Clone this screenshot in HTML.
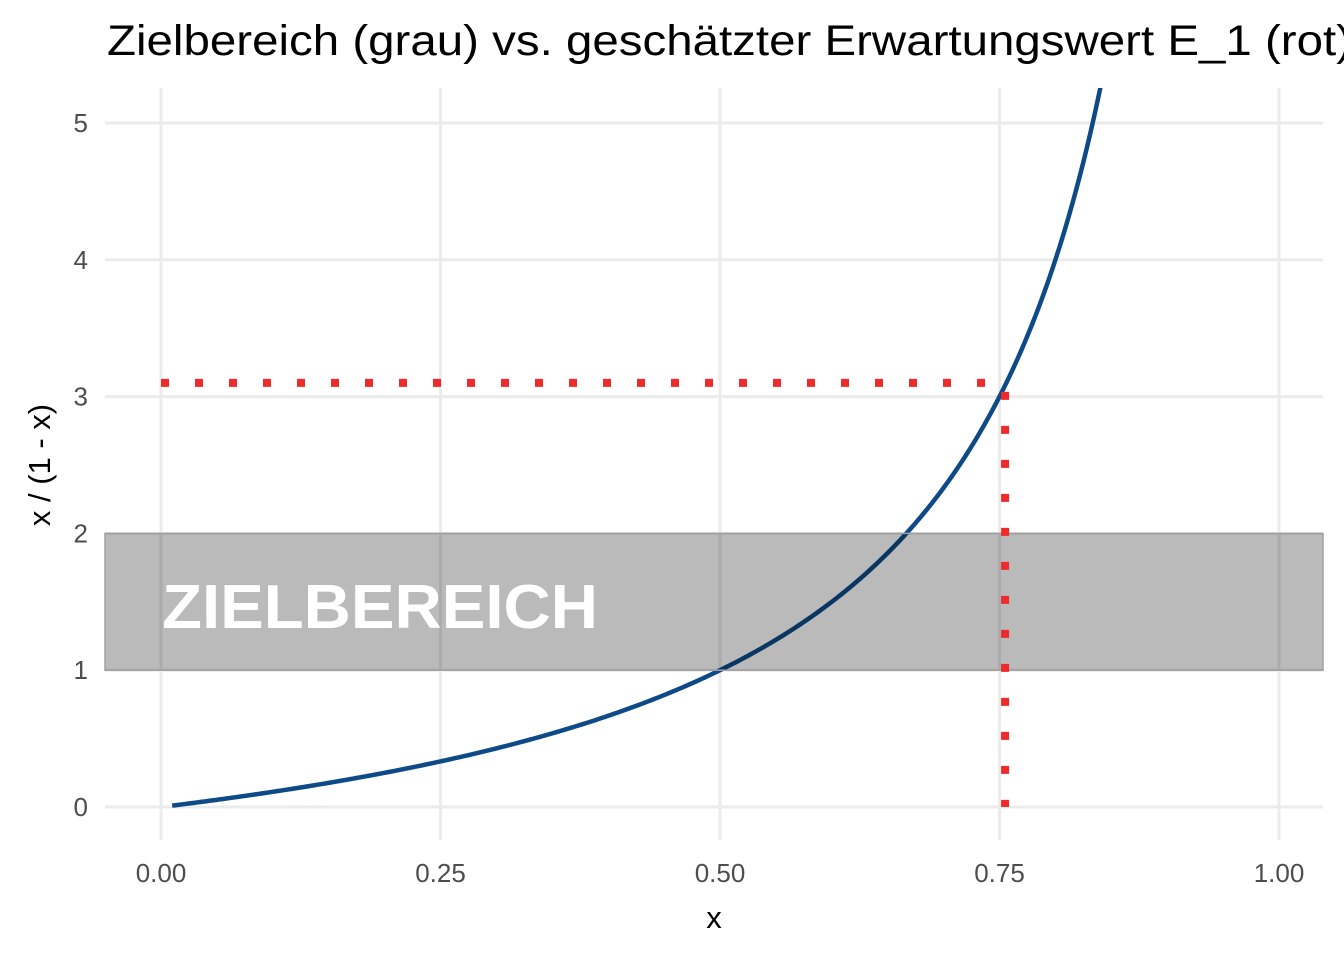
<!DOCTYPE html>
<html><head><meta charset="utf-8"><style>
html,body{margin:0;padding:0;background:#fff;}
svg{display:block;font-family:"Liberation Sans",sans-serif;}
</style></head><body>
<svg id="chart" width="1344" height="960">
<text x="107" y="55" font-size="43" fill="#000" textLength="1245" lengthAdjust="spacingAndGlyphs">Zielbereich (grau) vs. geschätzter Erwartungswert E_1 (rot)</text>
<g id="grid"></g>
<g id="curve"></g>
<g id="band"></g>
<g id="refs"></g>
<g id="axes"></g>
<text x="714" y="928" font-size="31" text-anchor="middle" fill="#000">x</text>
<text transform="translate(50,465) rotate(-90)" font-size="31" text-anchor="middle" fill="#000">x / (1 - x)</text>
</svg>
<script>
const xTicks=[0,0.25,0.5,0.75,1];
const xTickLabels=["0.00","0.25","0.50","0.75","1.00"];
const yTicks=[0,1,2,3,4,5];
const yTickLabels=["0","1","2","3","4","5"];
const bandRange=[1,2];
const estimateX=[0.755];
const estimateY=[3.1];
const curveDomain=[0.01,0.845];

const NS="http://www.w3.org/2000/svg";
const X=v=>161+v*1118, Y=v=>807-v*136.8;
const L=105,R=1323,T=88,B=840;
function mk(tag,attrs,parent){const e=document.createElementNS(NS,tag);for(const k in attrs)e.setAttribute(k,attrs[k]);parent.appendChild(e);return e;}
const grid=document.getElementById('grid'),axes=document.getElementById('axes');
xTicks.forEach((t,i)=>{
 const l=mk('line',{x1:X(t),x2:X(t),y1:T,y2:B,stroke:'#ebebeb','stroke-width':3},grid);
 
 
 const tx=mk('text',{x:X(t),y:882,'font-size':26,'text-anchor':'middle',fill:'#4d4d4d'},axes);
 tx.textContent=xTickLabels[i];
 
 
});
yTicks.forEach((t,i)=>{
 const l=mk('line',{x1:L,x2:R,y1:Y(t),y2:Y(t),stroke:'#ebebeb','stroke-width':3},grid);
 
 
 const tx=mk('text',{x:88,y:Y(t)+9,'font-size':26,'text-anchor':'end',fill:'#4d4d4d'},axes);
 tx.textContent=yTickLabels[i];
 
 
});
// curve
let d='';const n=300;
for(let i=0;i<=n;i++){const x=curveDomain[0]+(curveDomain[1]-curveDomain[0])*i/n;const y=x/(1-x);d+=(i?'L':'M')+X(x).toFixed(2)+','+Y(y).toFixed(2);}
const cp=mk('clipPath',{id:'clip'},document.getElementById('chart'));
mk('rect',{x:L,y:T,width:R-L,height:B-T},cp);
const p=mk('path',{d:d,fill:'none',stroke:'#0d4a87','stroke-width':4.5,'clip-path':'url(#clip)'},document.getElementById('curve'));


const band=document.getElementById('band');
const r=mk('rect',{x:L,y:Y(bandRange[1]),width:R-L,height:Y(bandRange[0])-Y(bandRange[1]),fill:'#000','fill-opacity':0.27,stroke:'#a0a0a0','stroke-width':1.5},band);


const bt=mk('text',{x:162,y:Y(bandRange[0])-42,'font-size':62,'font-weight':'bold',fill:'#fff',textLength:436,lengthAdjust:'spacingAndGlyphs'},band);
bt.textContent='ZIELBEREICH';


const refs=document.getElementById('refs');
const h=mk('line',{x1:X(0),x2:X(estimateX[0]),y1:Y(estimateY[0]),y2:Y(estimateY[0]),stroke:'#ee2a2a','stroke-width':8,'stroke-dasharray':'8 26'},refs);


const v=mk('line',{x1:X(estimateX[0]),x2:X(estimateX[0]),y1:Y(estimateY[0])+9,y2:Y(0),stroke:'#ee2a2a','stroke-width':8,'stroke-dasharray':'8 26'},refs);


</script>
</body></html>
